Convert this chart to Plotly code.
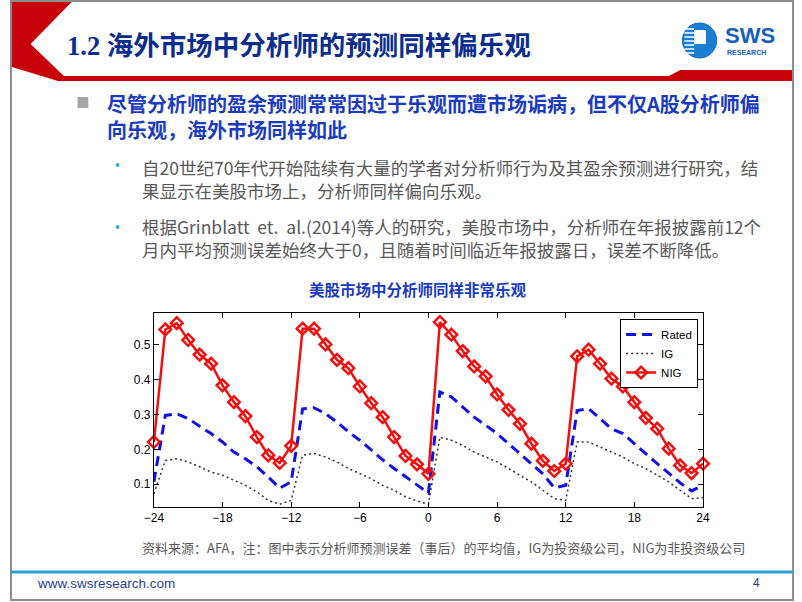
import plotly.graph_objects as go

# ---------------- data ----------------
months = list(range(-24, 25))
rated = [0.107, 0.297, 0.302, 0.288, 0.266, 0.245, 0.221, 0.192, 0.173, 0.150, 0.121, 0.089,
         0.107, 0.316, 0.319, 0.302, 0.278, 0.250, 0.226, 0.197, 0.170, 0.145, 0.121, 0.097,
         0.075, 0.364, 0.350, 0.321, 0.292, 0.269, 0.245, 0.216, 0.188, 0.159, 0.130, 0.090,
         0.097, 0.311, 0.316, 0.288, 0.259, 0.245, 0.216, 0.188, 0.159, 0.132, 0.104, 0.081, 0.097]
ig = [0.073, 0.168, 0.173, 0.164, 0.150, 0.135, 0.126, 0.111, 0.097, 0.078, 0.054, 0.043,
      0.054, 0.183, 0.188, 0.178, 0.164, 0.145, 0.130, 0.116, 0.097, 0.083, 0.064, 0.052,
      0.043, 0.235, 0.226, 0.211, 0.192, 0.178, 0.164, 0.145, 0.126, 0.107, 0.083, 0.059,
      0.054, 0.221, 0.221, 0.206, 0.192, 0.178, 0.159, 0.145, 0.126, 0.107, 0.083, 0.059, 0.062]
nig = [0.221, 0.543, 0.561, 0.513, 0.471, 0.445, 0.383, 0.335, 0.295, 0.235, 0.183, 0.161,
       0.210, 0.545, 0.545, 0.500, 0.456, 0.432, 0.380, 0.332, 0.292, 0.235, 0.181, 0.157,
       0.130, 0.564, 0.528, 0.481, 0.437, 0.409, 0.357, 0.313, 0.273, 0.216, 0.167, 0.138,
       0.159, 0.466, 0.485, 0.445, 0.402, 0.380, 0.335, 0.290, 0.259, 0.202, 0.154, 0.132, 0.159]
series_names = ["Rated", "IG", "NIG"]
x_ticks = [-24, -18, -12, -6, 0, 6, 12, 18, 24]
y_ticks = [0.1, 0.2, 0.3, 0.4, 0.5]

slide_title = "1.2 海外市场中分析师的预测同样偏乐观"
main_bullet = ["尽管分析师的盈余预测常常因过于乐观而遭市场诟病，但不仅A股分析师偏",
               "向乐观，海外市场同样如此"]
sub_bullet1 = ["自20世纪70年代开始陆续有大量的学者对分析师行为及其盈余预测进行研究，结",
               "果显示在美股市场上，分析师同样偏向乐观。"]
sub_bullet2 = ["根据Grinblatt  et.  al.(2014)等人的研究，美股市场中，分析师在年报披露前12个",
               "月内平均预测误差始终大于0，且随着时间临近年报披露日，误差不断降低。"]
chart_title = "美股市场中分析师同样非常乐观"
source_text = "资料来源：AFA，注：图中表示分析师预测误差（事后）的平均值，IG为投资级公司，NIG为非投资级公司"
url_text = "www.swsresearch.com"
page_no = "4"

W, H = 802, 602
CJK = "Noto Sans CJK SC"

def px(x):
    return x / W

def py(y):
    return 1 - y / H

fig = go.Figure()
fig.add_trace(go.Scatter(x=months, y=rated, name=series_names[0], mode="lines",
                         line=dict(color="#1010e8", width=3, dash="10px,6px"), cliponaxis=False))
fig.add_trace(go.Scatter(x=months, y=ig, name=series_names[1], mode="lines",
                         line=dict(color="#333333", width=1.5, dash="2px,3px"), cliponaxis=False))
fig.add_trace(go.Scatter(x=months, y=nig, name=series_names[2], mode="lines+markers",
                         line=dict(color="#f01010", width=2.5),
                         marker=dict(symbol="diamond-open", size=9, color="#f01010",
                                     line=dict(width=2.5, color="#f01010")),
                         cliponaxis=False))

shapes = []
def rect(x0, y0, x1, y1, **kw):
    shapes.append(dict(type="rect", xref="paper", yref="paper", x0=px(x0), x1=px(x1),
                       y0=py(y0), y1=py(y1), **kw))

def circ(x0, y0, x1, y1, **kw):
    shapes.append(dict(type="circle", xref="paper", yref="paper", x0=px(x0), x1=px(x1),
                       y0=py(y0), y1=py(y1), **kw))

def hline(x0, x1, y, **kw):
    shapes.append(dict(type="line", xref="paper", yref="paper", x0=px(x0), x1=px(x1),
                       y0=py(y), y1=py(y), **kw))

def poly(pts, **kw):
    path = "M " + " L ".join("%.5f,%.5f" % (px(a), py(b)) for a, b in pts) + " Z"
    shapes.append(dict(type="path", xref="paper", yref="paper", path=path, **kw))

# slide border
rect(1, 1, 800, 600, line=dict(color="#8c8c8c", width=2))
# red chevron + header bar
poly([(2, 2), (63, 2), (21, 44), (55, 76), (673, 76), (685, 70), (799, 70), (799, 81),
      (49, 81), (2, 67)], fillcolor="#c8000a", line=dict(width=0))
# logo
circ(687, 23, 722, 58, fillcolor="#1a7fd4", line=dict(color="#1168c0", width=1))
for yy in [29, 33, 37, 41, 45, 49, 53]:
    hline(689, 699, yy, line=dict(color="white", width=1.5))
rect(699, 30, 711, 44, fillcolor="white", line=dict(width=0))
# main bullet square
rect(69, 97, 80, 108, fillcolor="#a6a6a6", line=dict(width=0))
# sub bullet dots
for cy in [165, 227]:
    circ(108, cy - 2, 112, cy + 2, fillcolor="#3aa6dd", line=dict(width=0))
# bottom blue rule
hline(1, 800, 572, line=dict(color="#2a9fd4", width=3))

ann = []
def txt(x, y, t, size, color, family=CJK, xanchor="left", bold=False):
    ann.append(dict(x=px(x), y=py(y), xref="paper", yref="paper",
                    text=("<b>%s</b>" % t) if bold else t,
                    showarrow=False, xanchor=xanchor, yanchor="middle", align="left",
                    font=dict(size=size, color=color, family=family)))

txt(56, 46, slide_title, 26.5, "#0b2d8f", family="Liberation Serif, " + CJK, bold=True)
txt(728, 36, "SWS", 22, "#1560bd", family="Liberation Sans", bold=True)
txt(730, 52, "RESEARCH", 7, "#1560bd", family="Liberation Sans", bold=True)
txt(97, 116.5, "<br>".join(main_bullet), 20, "#1a3bbf", bold=True)
txt(133, 178.5, "<br>".join(sub_bullet1), 17.5, "#595959")
txt(133, 238, "<br>".join(sub_bullet2), 17.5, "#595959")
txt(417, 289, chart_title, 15.5, "#1a3bbf", xanchor="center", bold=True)
txt(133, 547, source_text, 13, "#595959")
txt(26, 583, url_text, 13.5, "#1f3d99", family="Liberation Sans")
txt(763, 583, page_no, 12, "#1f3d99", family="Liberation Sans", xanchor="center")

axis_common = dict(showline=True, linecolor="black", linewidth=1, mirror="allticks",
                   ticks="inside", ticklen=5, tickcolor="black", showgrid=False, zeroline=False,
                   tickfont=dict(family="Liberation Sans", size=12, color="black"))

fig.update_layout(
    width=W, height=H, margin=dict(l=0, r=0, t=0, b=0),
    paper_bgcolor="white", plot_bgcolor="white",
    xaxis=dict(domain=[147 / W, 708 / W], range=[-24, 24], tickvals=x_ticks, **axis_common),
    yaxis=dict(domain=[1 - 507 / H, 1 - 313 / H], range=[0.035, 0.59], tickvals=y_ticks,
               **axis_common),
    shapes=shapes, annotations=ann,
    legend=dict(x=703 / W, y=1 - 319 / H, xanchor="right", yanchor="top",
                bgcolor="white", bordercolor="black", borderwidth=1,
                font=dict(family="Liberation Sans", size=11.5, color="black"),
                tracegroupgap=0, itemwidth=30),
    showlegend=True,
)

fig.write_html("out.html")
